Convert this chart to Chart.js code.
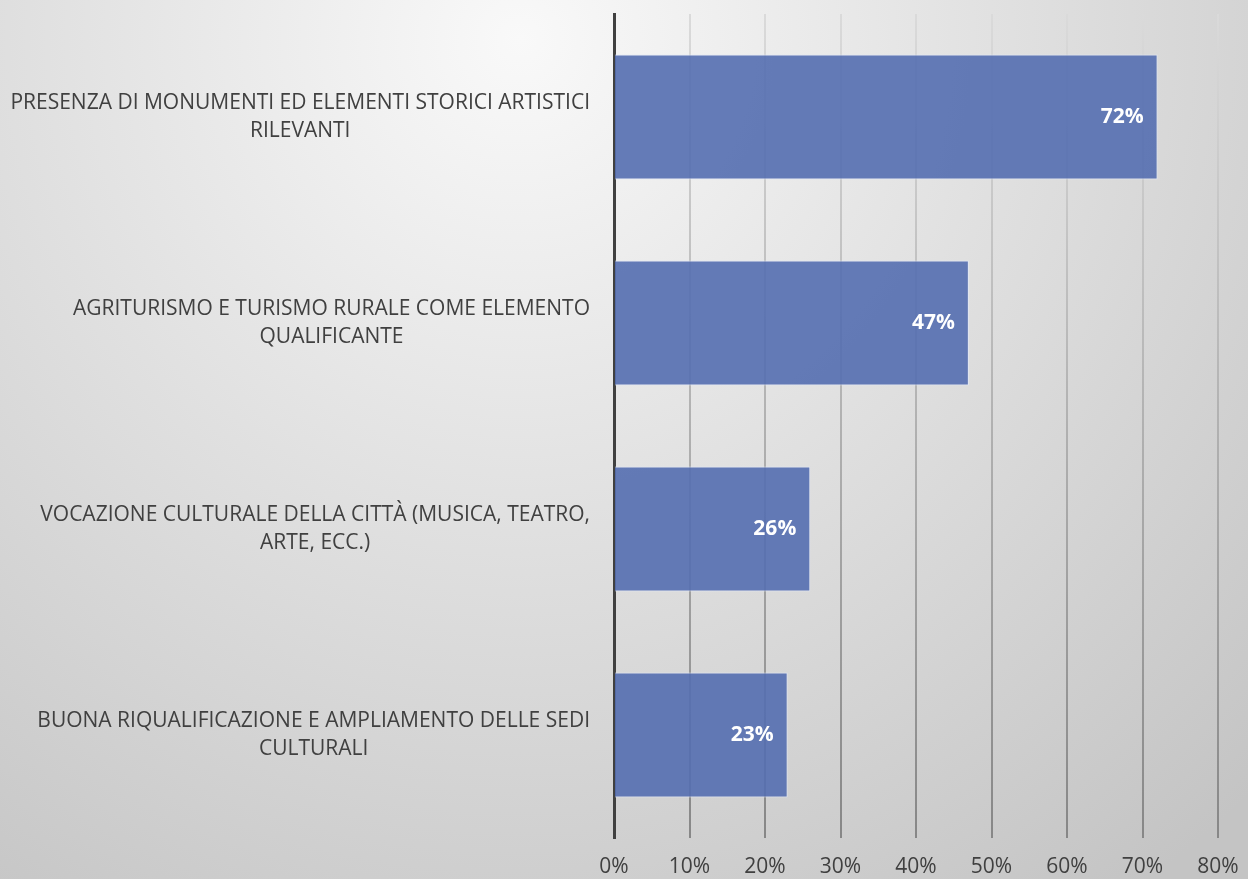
<!DOCTYPE html>
<html lang="it">
<head>
    <meta charset="UTF-8">
    <title>Punti di forza</title>
    <script src="https://cdn.jsdelivr.net/npm/chart.js"></script>
    <style>
        html, body { margin: 0; padding: 0; background: #d8d8d8; }
        canvas { display: block; }
    </style>
</head>
<body>
    <canvas id="chart" width="1248" height="879"></canvas>
    <script>
        const categories = [
            ['PRESENZA DI MONUMENTI ED ELEMENTI STORICI ARTISTICI', 'RILEVANTI'],
            ['AGRITURISMO E TURISMO RURALE COME ELEMENTO', 'QUALIFICANTE'],
            ['VOCAZIONE CULTURALE DELLA CITTÀ (MUSICA, TEATRO,', 'ARTE, ECC.)'],
            ['BUONA RIQUALIFICAZIONE E AMPLIAMENTO DELLE SEDI', 'CULTURALI']
        ];
        const percentages = [72, 47, 26, 23];
        const xTicks = [0, 10, 20, 30, 40, 50, 60, 70, 80];

        const FONT = '"Open Sans", "Noto Sans", sans-serif';
        const LABEL_RIGHT = 590;
        const AXIS_LEFT = 614;

        // soft grey backdrop, brightest near the top middle
        const backdrop = {
            id: 'backdrop',
            beforeDraw(chart) {
                const { ctx, width, height } = chart;
                const g = ctx.createRadialGradient(520, 40, 0, 520, 40, 1050);
                g.addColorStop(0, '#f9f9f9');
                g.addColorStop(0.45, '#e1e1e1');
                g.addColorStop(1, '#c4c4c4');
                ctx.save();
                ctx.fillStyle = g;
                ctx.fillRect(0, 0, width, height);
                ctx.restore();
            }
        };

        // category names: right-aligned block, lines centred inside it
        const categoryNames = {
            id: 'categoryNames',
            afterDraw(chart) {
                const { ctx } = chart;
                const yScale = chart.scales.y;
                ctx.save();
                ctx.font = '21px ' + FONT;
                ctx.fillStyle = '#404040';
                ctx.textBaseline = 'middle';
                ctx.textAlign = 'center';
                categories.forEach((lines, i) => {
                    const yc = yScale.getPixelForValue(i);
                    const blockW = Math.max(...lines.map(l => ctx.measureText(l).width));
                    const cx = LABEL_RIGHT - blockW / 2;
                    const lineH = 28;
                    const top = yc - (lines.length - 1) * lineH / 2;
                    lines.forEach((l, j) => ctx.fillText(l, cx, top + j * lineH));
                });
                ctx.restore();
            }
        };

        // percentage inside the end of each bar
        const valueLabels = {
            id: 'valueLabels',
            afterDatasetsDraw(chart) {
                const { ctx } = chart;
                const meta = chart.getDatasetMeta(0);
                ctx.save();
                ctx.font = 'bold 21px ' + FONT;
                ctx.fillStyle = '#ffffff';
                ctx.textAlign = 'right';
                ctx.textBaseline = 'middle';
                meta.data.forEach((bar, i) => {
                    ctx.fillText(percentages[i] + '%', bar.x - 14, bar.y);
                });
                ctx.restore();
            }
        };

        const ctx = document.getElementById('chart').getContext('2d');
        const gridGradient = ctx.createLinearGradient(0, 14, 0, 838);
        gridGradient.addColorStop(0, '#dadada');
        gridGradient.addColorStop(1, '#878787');

        new Chart(ctx, {
            type: 'bar',
            data: {
                labels: categories,
                datasets: [{
                    data: percentages,
                    backgroundColor: 'rgba(84, 110, 176, 0.9)',
                    borderColor: 'rgba(225, 232, 248, 0.9)',
                    borderWidth: 1,
                    categoryPercentage: 1,
                    barPercentage: 0.607
                }]
            },
            options: {
                indexAxis: 'y',
                responsive: false,
                animation: false,
                layout: { padding: { top: 14, right: 30, left: 0, bottom: 0 } },
                plugins: {
                    legend: { display: false },
                    tooltip: { enabled: false }
                },
                scales: {
                    x: {
                        min: 0,
                        max: 80,
                        afterBuildTicks(scale) {
                            scale.ticks = xTicks.map(v => ({ value: v }));
                        },
                        afterFit(scale) {
                            scale.height = 41;
                            scale.paddingLeft = 0;
                            scale.paddingRight = 0;
                        },
                        grid: {
                            color: gridGradient,
                            lineWidth: 2,
                            drawTicks: false
                        },
                        border: { display: false },
                        ticks: {
                            padding: 16,
                            color: '#404040',
                            font: { family: FONT, size: 21 },
                            maxRotation: 0,
                            callback: v => v + '%'
                        }
                    },
                    y: {
                        grid: { display: false },
                        border: { display: true, color: '#404040', width: 3 },
                        ticks: { display: false },
                        afterFit(scale) {
                            scale.width = AXIS_LEFT;
                        }
                    }
                }
            },
            plugins: [backdrop, categoryNames, valueLabels]
        });
    </script>
</body>
</html>
